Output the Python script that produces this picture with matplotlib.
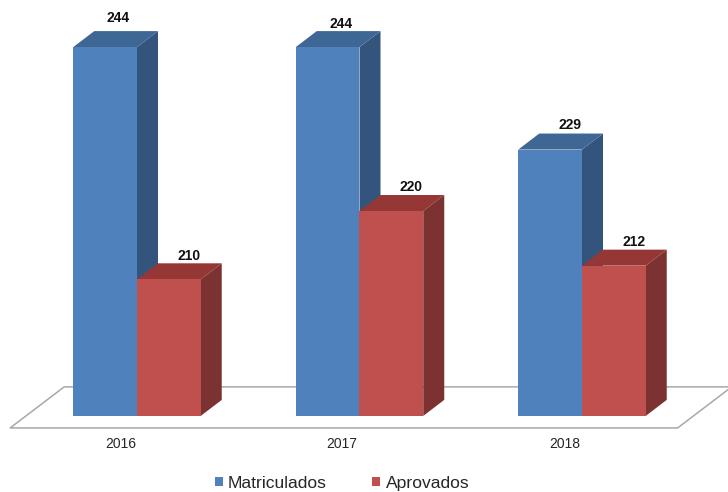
import numpy as np
import matplotlib
matplotlib.use('Agg')
import matplotlib.pyplot as plt

plt.rcParams['font.family'] = ['Liberation Sans', 'DejaVu Sans']

anos = ['2016', '2017', '2018']
matriculados = [244, 244, 229]
aprovados = [210, 220, 212]

# cores: frente, topo, lado
azul = ('#4F81BD', '#3F6795', '#33547C')
vermelho = ('#C0504D', '#953735', '#7C3230')

fig = plt.figure(figsize=(7.28, 4.92), dpi=100)
ax = fig.add_axes([0, 0, 1, 1])
ax.set_xlim(-0.6157, 2.6562)
ax.set_ylim(178.86, 250.9)
ax.axis('off')

base = 190
largura = 0.2865
# profundidade da barra e do piso, em unidades dos eixos
dx, dy = 21 / 222.5, 16 / 6.82
piso_dx, piso_dy = 54 / 222.5, 41 / 6.82
piso_y = base - 12 / 6.82
piso_x0, piso_x1 = -0.57, 2.43
x = np.arange(len(anos))


def barra(xs, valores, cores, nome):
    # lado e topo primeiro, depois a frente
    for xi, v in zip(xs, valores):
        ax.fill([xi + largura, xi + largura + dx, xi + largura + dx, xi + largura],
                [base, base + dy, v + dy, v], color=cores[2], lw=0, zorder=2)
        ax.fill([xi, xi + dx, xi + largura + dx, xi + largura],
                [v, v + dy, v + dy, v], color=cores[1], lw=0, zorder=2)
    ax.bar(xs, np.array(valores) - base, largura, bottom=base, align='edge',
           color=cores[0], label=nome, zorder=2)


# piso
ax.plot([piso_x1 + piso_dx, piso_x1, piso_x0, piso_x0 + piso_dx, piso_x1 + piso_dx],
        [piso_y + piso_dy, piso_y, piso_y, piso_y + piso_dy, piso_y + piso_dy],
        color='#A8A8A8', lw=1.1, zorder=1)

barra(x - largura, matriculados, azul, 'Matriculados')
barra(x, aprovados, vermelho, 'Aprovados')

# rótulos (deslocamentos em pontos, a partir do canto da barra)
desl_mat = [(32.4, 21), (32.4, 17), (37.4, 18)]
desl_apr = [(37.4, 17), (37, 17), (37.4, 17)]
desl_ano = [-12, -13, -12.5]
for i in range(len(anos)):
    ax.annotate(str(matriculados[i]), (x[i] - largura, matriculados[i]),
                xytext=desl_mat[i], textcoords='offset points',
                ha='center', va='center', fontsize=10, fontweight='bold',
                color='#111111', zorder=3)
    ax.annotate(str(aprovados[i]), (x[i], aprovados[i]),
                xytext=desl_apr[i], textcoords='offset points',
                ha='center', va='center', fontsize=10, fontweight='bold',
                color='#111111', zorder=3)
    ax.annotate(anos[i], (x[i], piso_y), xytext=(desl_ano[i], -11.5),
                textcoords='offset points', ha='center', va='center',
                fontsize=10, color='#262626')

ax.legend(loc='lower left', bbox_to_anchor=(0.2755, -0.026), ncol=2, frameon=False,
          fontsize=12.6, handlelength=0.46, handleheight=0.46, handletextpad=0.3,
          columnspacing=2.6, labelcolor='#262626', borderpad=0.3)

fig.savefig('out.png', dpi=100)
